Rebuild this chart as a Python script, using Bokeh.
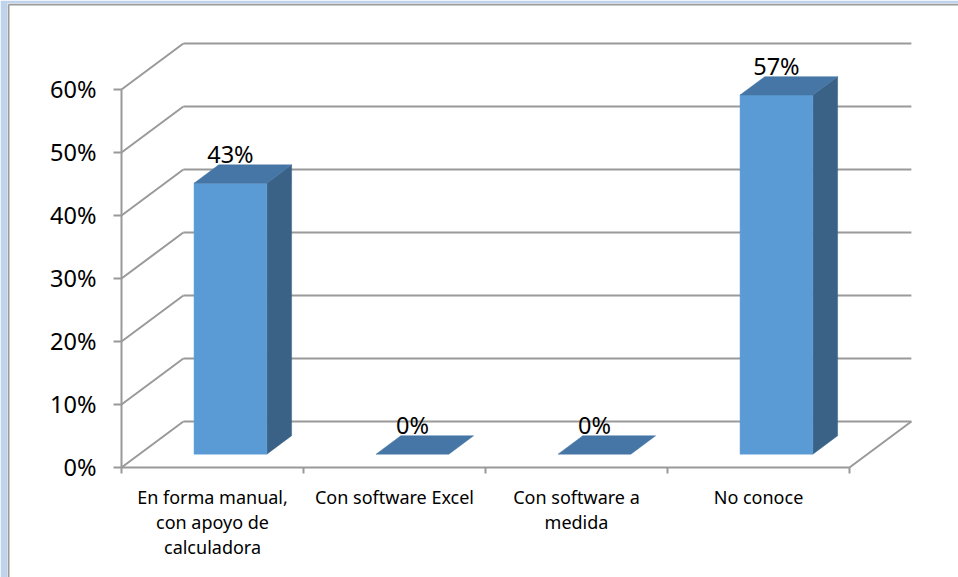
from bokeh.plotting import figure
from bokeh.models import Range1d, ColumnDataSource
from bokeh.core.properties import value
from bokeh.embed import file_html
from bokeh.resources import INLINE

# ---- data ----
categories = ["En forma manual,\ncon apoyo de\ncalculadora", "Con software Excel",
              "Con software a\nmedida", "No conoce"]
values = [43, 0, 0, 57]
value_labels = ["43%", "0%", "0%", "57%"]
y_ticks = [0, 10, 20, 30, 40, 50, 60]
y_tick_labels = ["0%", "10%", "20%", "30%", "40%", "50%", "60%"]

# ---- 3D look parameters (category units / percent units) ----
DX = 0.34      # full depth offset in x (category units)
DY = 7.3       # full depth offset in y (percent units)
F0, F1 = 0.29, 0.69   # bar depth front/back fraction
BW0, BW1 = 0.30, 0.70  # bar extent within a category
N = len(categories)
YMAX = 60

FRONT = "#5B9BD5"
TOP = "#4676A5"
SIDE = "#3A6287"
GRID = "#999999"
FONT = "Noto Sans"

W, H = 958, 577
L_BORDER, T_BORDER = 7, 3
px_per_u, px_per_pct = 182.0, 6.3
ox, oy = 121.0, 467.0
x0 = (L_BORDER - ox) / px_per_u
x1 = (W - ox) / px_per_u
y1 = (oy - T_BORDER) / px_per_pct
y0 = (oy - H) / px_per_pct

p = figure(width=W, height=H, output_backend="svg", toolbar_location=None,
           x_axis_type=None, y_axis_type=None,
           x_range=Range1d(x0, x1), y_range=Range1d(y0, y1),
           min_border_left=L_BORDER, min_border_top=T_BORDER,
           min_border_right=0, min_border_bottom=0)
p.grid.visible = False
p.border_fill_color = "#BDD4EC"
p.background_fill_color = "white"
p.outline_line_color = None

# frame edge lines (left and top only)
ex = x0 + 1 / px_per_u
ey = y1 - 1 / px_per_pct
p.segment([ex, ex], [y0, ey], [ex, x1], [ey, ey], line_color="#9A9A9A", line_width=2)

# ---- walls / gridlines ----
gx0, gy0, gx1, gy1 = [], [], [], []
for t in y_ticks:
    gx0.append(0); gy0.append(t); gx1.append(DX); gy1.append(t + DY)
    gx0.append(DX); gy0.append(t + DY); gx1.append(N + DX); gy1.append(t + DY)
gx0 += [N]; gy0 += [0]; gx1 += [N + DX]; gy1 += [DY]
p.segment(gx0, gy0, gx1, gy1, line_color=GRID, line_width=2)
p.segment([0, 0], [0, 0], [N, 0], [0, YMAX], line_color=GRID, line_width=2)

# axis ticks
tick_px = 8
p.segment([0] * len(y_ticks), y_ticks, [-tick_px / px_per_u] * len(y_ticks), y_ticks,
          line_color=GRID, line_width=2)
cb = list(range(N + 1))
p.segment(cb, [0] * (N + 1), cb, [-6 / px_per_pct] * (N + 1), line_color=GRID, line_width=2)

# ---- bars ----
fx0 = [i + BW0 + F0 * DX for i in range(N)]
fx1 = [i + BW1 + F0 * DX for i in range(N)]
fyb = [F0 * DY] * N
fyt = [v + F0 * DY for v in values]
ddx = (F1 - F0) * DX
ddy = (F1 - F0) * DY

side_xs, side_ys, top_xs, top_ys = [], [], [], []
for i, v in enumerate(values):
    if v > 0:
        side_xs.append([fx1[i], fx1[i] + ddx, fx1[i] + ddx, fx1[i]])
        side_ys.append([fyb[i], fyb[i] + ddy, fyt[i] + ddy, fyt[i]])
    top_xs.append([fx0[i], fx1[i], fx1[i] + ddx, fx0[i] + ddx])
    top_ys.append([fyt[i], fyt[i], fyt[i] + ddy, fyt[i] + ddy])

p.patches(side_xs, side_ys, fill_color=SIDE, line_color=SIDE, line_width=0.5)
nz = [i for i in range(N) if values[i] > 0]
front_src = ColumnDataSource(dict(left=[fx0[i] for i in nz], right=[fx1[i] for i in nz],
                                  bottom=[fyb[i] for i in nz], top=[fyt[i] for i in nz]))
p.quad(left="left", right="right", bottom="bottom", top="top", source=front_src,
       fill_color=FRONT, line_color=FRONT, line_width=0.5)
p.patches(top_xs, top_ys, fill_color=TOP, line_color=TOP, line_width=0.5)

# ---- data labels ----
lx = [i + 0.5 + F0 * DX for i in range(N)]
ly = [v + F1 * DY + 11 / px_per_pct for v in values]
p.text(lx, ly, text=value_labels, text_font=value(FONT), text_font_size="23.5px",
       text_align="center", text_baseline="alphabetic", text_color="black")

# ---- y tick labels ----
p.text([-25 / px_per_u] * len(y_ticks), [t + 1 / px_per_pct for t in y_ticks],
       text=y_tick_labels, text_font=value(FONT), text_font_size="23.5px",
       text_align="right", text_baseline="middle", text_color="black")

# ---- category labels ----
p.text([i + 0.5 for i in range(N)], [-(484 - oy) / px_per_pct] * N,
       text=categories, text_font=value(FONT), text_font_size="18px",
       text_align="center", text_baseline="top", text_line_height=1.05,
       text_color="black")

open("out.html", "w").write(file_html(p, INLINE))
